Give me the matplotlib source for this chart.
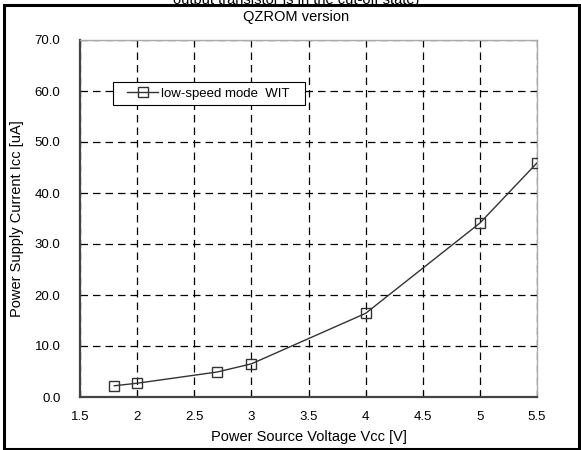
import numpy as np
import matplotlib.pyplot as plt
from matplotlib.patches import Rectangle
from matplotlib.lines import Line2D
from matplotlib.legend_handler import HandlerLine2D

plt.rcParams['font.family'] = ['Liberation Sans', 'DejaVu Sans']

# data
vcc = [1.8, 2.0, 2.7, 3.0, 4.0, 5.0, 5.5]
icc = [2.2, 2.7, 4.9, 6.5, 16.4, 34.1, 45.9]
x_ticks = [1.5, 2, 2.5, 3, 3.5, 4, 4.5, 5, 5.5]
x_labels = ['1.5', '2', '2.5', '3', '3.5', '4', '4.5', '5', '5.5']
y_ticks = [0, 10, 20, 30, 40, 50, 60, 70]

fig = plt.figure(figsize=(5.81, 4.5), dpi=100)
ax = fig.add_axes([80 / 581, 53 / 450, 457 / 581, 357 / 450])

ax.plot(vcc, icc, color='#333333', lw=1.0, marker='s', markersize=7,
        markerfacecolor='none', markeredgecolor='#333333', markeredgewidth=1.0,
        label='low-speed mode  WIT   ', zorder=3)

ax.set_xlim(1.5, 5.5)
ax.set_ylim(0, 70)
ax.set_xticks(x_ticks)
ax.set_xticklabels(x_labels)
ax.set_yticks(y_ticks)
ax.set_yticklabels(['%.1f' % v for v in y_ticks])
ax.tick_params(axis='x', direction='in', length=4, labelsize=9.5, pad=10)
ax.tick_params(axis='y', direction='out', length=0, labelsize=9.5, pad=14)

ax.grid(True, color='black', lw=0.9, linestyle=(0, (6, 4)))
for s in ['left', 'bottom']:
    ax.spines[s].set_color('#444444')
    ax.spines[s].set_linewidth(1.6)
for s in ['top', 'right']:
    ax.spines[s].set_color('#aaaaaa')
    ax.spines[s].set_linewidth(1.0)

ax.set_xlabel('Power Source Voltage Vcc [V]', fontsize=10.5, labelpad=5)
ax.set_ylabel('Power Supply Current Icc [uA]', fontsize=10.5, labelpad=8)

leg = ax.legend(loc='upper left', bbox_to_anchor=(0.072, 0.882), fontsize=9.5,
                frameon=True, fancybox=False, edgecolor='black',
                handlelength=3.0, handletextpad=0.25, borderpad=0.4,
                borderaxespad=0, framealpha=1,
                handler_map={Line2D: HandlerLine2D(xpad=0.7)})
leg.get_frame().set_linewidth(0.8)

fig.text(296 / 581, 1 - 17 / 450, 'QZROM version', ha='center', va='center', fontsize=10.5)
fig.text(296 / 581, 1.0, 'output transistor is in the cut-off state)',
         ha='center', va='center', fontsize=10.5)

fig.patches.append(Rectangle((4 / 581, 0.002), 575 / 581, 1 - 6 / 450,
                             transform=fig.transFigure, fill=False,
                             edgecolor='black', lw=2.2))

fig.savefig('out.png', dpi=100)
